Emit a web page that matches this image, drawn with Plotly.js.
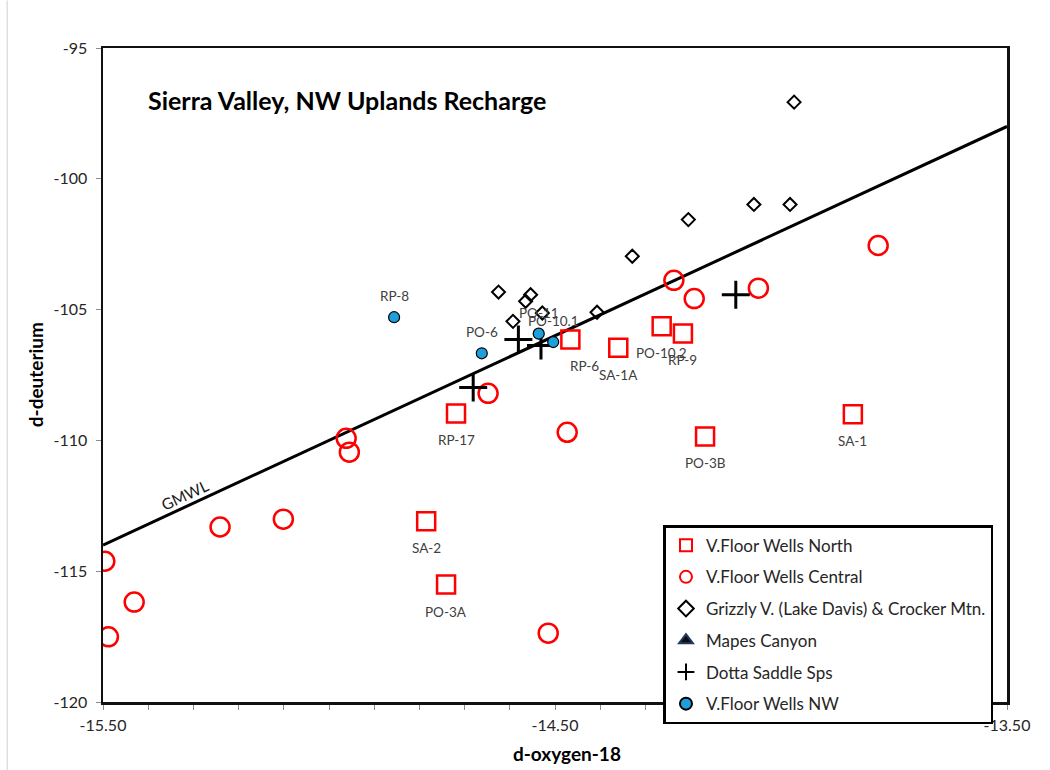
<!DOCTYPE html>
<html><head><meta charset="utf-8">
<script src="https://cdn.plot.ly/plotly-3.0.1.min.js"></script>
<style>html,body{margin:0;padding:0;background:#fff}#chart{width:1050px;height:770px}</style>
</head><body><div id="chart"></div>
<script>
// V.Floor Wells North
const northX = [-14.466, -14.360, -14.264, -14.217, -14.168, -13.841, -14.719, -14.785, -14.741];
const northY = [-106.14, -106.46, -105.64, -105.91, -109.85, -109.00, -108.97, -113.09, -115.51];
const northLabels = ['RP-6', 'SA-1A', 'PO-10.2', 'RP-9', 'PO-3B', 'SA-1', 'RP-17', 'SA-2', 'PO-3A'];
// V.Floor Wells Central
const centralX = [-13.785, -14.237, -14.192, -14.050, -14.648, -14.473, -14.962, -14.955, -15.241, -15.101, -15.496, -15.431, -15.488, -14.515];
const centralY = [-102.55, -103.88, -104.58, -104.18, -108.20, -109.69, -109.92, -110.45, -113.31, -113.01, -114.62, -116.18, -117.51, -117.37];
// Grizzly V. (Lake Davis) & Crocker Mtn.
const grizzlyX = [-13.971, -14.205, -14.060, -13.980, -14.329, -14.407, -14.625, -14.565, -14.554, -14.528, -14.593];
const grizzlyY = [-97.07, -101.56, -100.98, -100.98, -102.96, -105.10, -104.33, -104.68, -104.43, -105.13, -105.45];
// Mapes Canyon (no points plotted)
const mapesX = [null];
const mapesY = [null];
// Dotta Saddle Sps
const dottaX = [-14.581, -14.531, -14.681, -14.100];
const dottaY = [-106.14, -106.37, -107.98, -104.43];
// V.Floor Wells NW
const nwX = [-14.856, -14.662, -14.536, -14.504];
const nwY = [-105.29, -106.67, -105.92, -106.24];
const nwLabels = ['RP-8', 'PO-6', 'PO-11', 'PO-10.1'];
// Global Meteoric Water Line end points
const gmwlX = [-15.5, -13.5];
const gmwlY = [-114, -98];

const seriesNames = ['V.Floor Wells North', 'V.Floor Wells Central', 'Grizzly V. (Lake Davis) & Crocker Mtn.', 'Mapes Canyon', 'Dotta Saddle Sps', 'V.Floor Wells NW'];
const xTickVals = [-15.5, -14.5, -13.5];
const xTickText = ['-15.50', '-14.50', '-13.50'];
const yTickVals = [-120, -115, -110, -105, -100, -95];
const yTickText = ['-120', '-115', '-110', '-105', '-100', '-95'];

const FONT = 'Lato, "Open Sans", sans-serif';
const TXT = '#262626';

const traces = [
  {x: gmwlX, y: gmwlY, mode: 'lines', line: {color: '#000', width: 3}, showlegend: false, hoverinfo: 'skip'},
  {x: northX, y: northY, name: seriesNames[0], legendgroup: 'g1', mode: 'markers',
   marker: {symbol: 'square-open', size: 18, color: '#ff0000', line: {width: 2.5, color: '#ff0000'}}},
  {x: centralX, y: centralY, name: seriesNames[1], legendgroup: 'g2', mode: 'markers',
   marker: {symbol: 'circle-open', size: 19, color: '#ff0000', line: {width: 2.5, color: '#ff0000'}}},
  {x: grizzlyX, y: grizzlyY, name: seriesNames[2], legendgroup: 'g3', mode: 'markers',
   marker: {symbol: 'diamond-open', size: 10, color: '#000', line: {width: 2, color: '#000'}}},
  {x: mapesX, y: mapesY, name: seriesNames[3], legendgroup: 'g4', mode: 'markers',
   marker: {symbol: 'triangle-up', size: 10, color: '#0d0d0d', line: {width: 1, color: '#1f3864'}}},
  {x: dottaX, y: dottaY, name: seriesNames[4], legendgroup: 'g5', mode: 'markers',
   marker: {symbol: 'cross-thin-open', size: 20, color: '#000', line: {width: 3, color: '#000'}}},
  {x: nwX, y: nwY, name: seriesNames[5], legendgroup: 'g6', mode: 'markers',
   marker: {symbol: 'circle', size: 11, color: '#1e9fdb', line: {width: 1.2, color: '#000'}}}
];

const annotations = [];
northX.forEach((x, i) => {
  const dx = northLabels[i] === 'RP-6' ? 14 : 0;
  annotations.push({x: x, y: northY[i], xref: 'x', yref: 'y', text: northLabels[i], showarrow: false,
    xshift: dx, yshift: -27, font: {family: FONT, size: 13.5, color: '#404040'}});
});
nwX.forEach((x, i) => {
  annotations.push({x: x, y: nwY[i], xref: 'x', yref: 'y', text: nwLabels[i], showarrow: false,
    xshift: 0, yshift: 21, font: {family: FONT, size: 13.5, color: '#404040'}});
});
annotations.push({xref: 'paper', yref: 'paper', x: 0.048, y: 0.92, xanchor: 'left', yanchor: 'middle',
  text: '<b>Sierra Valley, NW Uplands Recharge</b>', showarrow: false, font: {family: FONT, size: 25, color: '#000'}});
annotations.push({xref: 'paper', yref: 'paper', x: 0.0907, y: 0.3163, xanchor: 'center', yanchor: 'middle', text: 'GMWL', textangle: -25, showarrow: false,
  font: {family: FONT, size: 15.5, color: '#1a1a1a'}});
annotations.push({xref: 'paper', yref: 'paper', x: 0.513, y: -0.078, xanchor: 'center', yanchor: 'middle', text: '<b>d-oxygen-18</b>', showarrow: false,
  font: {family: FONT, size: 19, color: '#000'}});
annotations.push({xref: 'paper', yref: 'paper', x: -0.075, y: 0.5, xanchor: 'center', yanchor: 'middle', textangle: -90, text: '<b>d-deuterium</b>', showarrow: false,
  font: {family: FONT, size: 19, color: '#000'}});

const layout = {
  width: 1050, height: 770,
  margin: {l: 103, r: 43, t: 48, b: 68},
  paper_bgcolor: '#fff', plot_bgcolor: '#fff',
  font: {family: FONT, color: TXT},
  xaxis: {range: [-15.5, -13.5], tickvals: xTickVals, ticktext: xTickText, ticks: 'outside', ticklen: 5, tickcolor: '#8c8c8c',
    minor: {dtick: 0.1, tick0: -15.5, ticks: 'outside', ticklen: 5, tickcolor: '#8c8c8c', showgrid: false},
    showgrid: false, zeroline: false, showline: true, mirror: true, linecolor: '#111', linewidth: 2.5,
    ticklabelstandoff: 2, tickfont: {family: FONT, size: 16, color: TXT}},
  yaxis: {range: [-120, -95], tickvals: yTickVals, ticktext: yTickText, ticks: 'outside', ticklen: 5, tickcolor: '#8c8c8c',
    showgrid: false, zeroline: false, showline: true, mirror: true, linecolor: '#111', linewidth: 2.5,
    ticklabelstandoff: 5, tickfont: {family: FONT, size: 16, color: TXT}},
  showlegend: true,
  legend: {x: 0.62, y: 0.2705, xanchor: 'left', yanchor: 'top', bgcolor: '#fff', bordercolor: '#000', borderwidth: 2.5,
    font: {family: FONT, size: 17, color: TXT}, traceorder: 'grouped', tracegroupgap: 6.6, itemsizing: 'constant'},
  annotations: annotations,
  shapes: [{type: 'line', xref: 'paper', yref: 'paper', x0: -0.106, x1: -0.106, y0: -0.104, y1: 1.0726,
    line: {color: '#d0d0d0', width: 1}}]
};

Plotly.newPlot('chart', traces, layout, {displayModeBar: false, staticPlot: true});
</script></body></html>
